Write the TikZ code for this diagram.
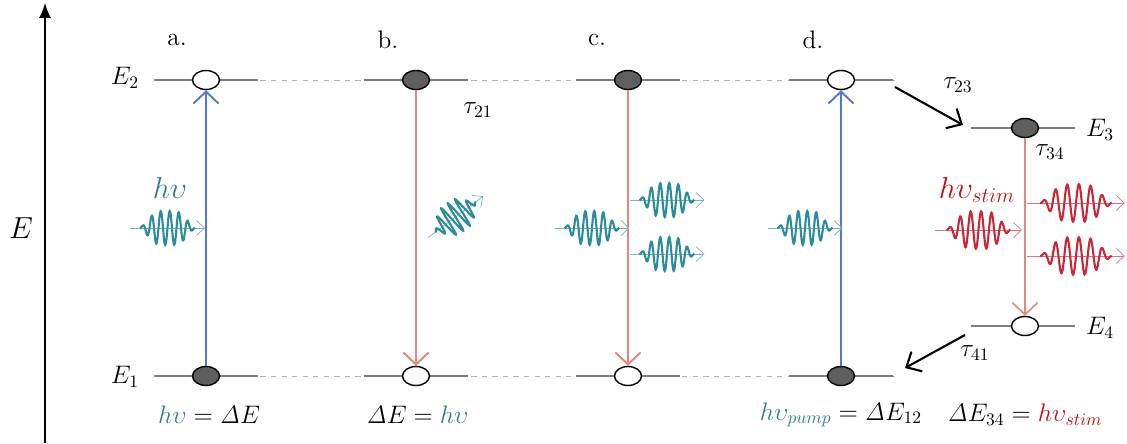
\documentclass[tikz,border=0pt]{standalone}
\usetikzlibrary{arrows.meta,shapes.geometric}
\definecolor{photonteal}{RGB}{45,140,155}
\definecolor{textteal}{RGB}{50,125,140}
\definecolor{stimred}{RGB}{200,40,55}
\definecolor{textred}{RGB}{190,15,20}
\definecolor{pumpblue}{RGB}{85,120,200}
\definecolor{decaypink}{RGB}{225,135,125}
\definecolor{levelgrey}{RGB}{125,125,125}
\definecolor{dotgrey}{RGB}{95,95,95}
\begin{document}
\begin{tikzpicture}[
    font=\Large,
    level/.style={draw, levelgrey, line width=1.2pt},
    guide/.style={draw, black!30, thin, dashed},
    full/.style={ellipse, draw=black, thick, fill=dotgrey, minimum width=0.54cm, minimum height=0.38cm, inner sep=0pt},
    empty/.style={full, fill=white},
    pump/.style={draw, pumpblue, line width=1.1pt, -{Straight Barb[length=2.4mm,width=5mm]}},
    decay/.style={draw, decaypink, line width=1.1pt, -{Straight Barb[length=2.4mm,width=5mm]}},
    relax/.style={draw, black, line width=1.2pt, -{Straight Barb[length=2.4mm,width=4.5mm]}},
    pics/packet/.style={code={
      \draw[#1!65!white, -{Straight Barb[length=1.6mm,width=3mm]}] (-0.75,0) -- (0.75,0);
      \draw[#1, line width=1.2pt] plot[domain=-0.55:0.55, samples=160, smooth]
        (\x,{0.34*exp(-(\x*\x/0.1764)*(\x*\x/0.1764))*sin(2000*\x)});
    }},
  ]
  \useasboundingbox (0,0) rectangle (22.54,8.86);

  % ---- energy axis ----
  \coordinate (axisbot) at (0.9,0);
  \coordinate (axistop) at (0.9,8.8);
  \draw[thick, -{Latex[length=3mm,width=2.4mm]}] (axisbot) -- (axistop);
  \node (elabel) at (0.42,4.3) {\LARGE$E$};

  % ---- levels E1 / E2 ----
  \draw[guide] (3.1,7.26) -- (17.9,7.26);
  \draw[guide] (3.1,1.34) -- (17.9,1.34);
  \node (e2) at (2.5,7.3) {$E_2$};
  \node (e1) at (2.5,1.32) {$E_1$};
  \foreach \col/\cx/\up/\low in {a/4.12/empty/full, b/8.32/full/empty, c/12.56/full/empty, d/16.82/empty/full} {
    \draw[level] (\cx-1.04,7.26) -- (\cx+1.04,7.26);
    \draw[level] (\cx-1.04,1.34) -- (\cx+1.04,1.34);
    \node[\up] (\col2) at (\cx,7.26) {};
    \node[\low] (\col1) at (\cx,1.34) {};
  }
  \foreach \col/\cx in {a/3.54, b/7.76, c/11.94, d/16.26}
    \node (lbl\col) at (\cx,8.06) {\col.};

  % ---- transitions ----
  \draw[pump] (a1) -- (a2);
  \draw[decay] (b2) -- (b1);
  \draw[decay] (c2) -- (c1);
  \draw[pump] (d1) -- (d2);
  \node (t21) at (9.56,6.66) {$\tau_{21}$};

  % ---- photons ----
  \node[textteal] (hva) at (3.4,5.1) {\LARGE$h\upsilon$};
  \pic at (3.35,4.3) {packet=photonteal};
  \pic[rotate=37, scale=0.92] at (9.11,4.52) {packet=photonteal};
  \pic at (11.84,4.3) {packet=photonteal};
  \pic at (13.34,4.86) {packet=photonteal};
  \pic at (13.34,3.78) {packet=photonteal};
  \pic at (16.1,4.3) {packet=photonteal};

  % ---- four level scheme ----
  \draw[level] (19.42,6.30) -- (21.5,6.30);
  \draw[level] (19.42,2.34) -- (21.5,2.34);
  \node[full] (r3) at (20.5,6.30) {};
  \node[empty] (r4) at (20.5,2.34) {};
  \node (e3) at (22.0,6.26) {$E_3$};
  \node (e4) at (22.0,2.3) {$E_4$};
  \draw[decay, line width=0.9pt] (r3) -- (r4);
  \coordinate (t23a) at (17.9,7.12);
  \coordinate (t23b) at (19.26,6.36);
  \draw[relax] (t23a) -- (t23b);
  \coordinate (t41a) at (19.3,2.16);
  \coordinate (t41b) at (18.1,1.5);
  \draw[relax] (t41a) -- (t41b);
  \node (t23) at (19.16,7.16) {$\tau_{23}$};
  \node (t34) at (21.0,5.82) {$\tau_{34}$};
  \node (t41) at (19.5,1.8) {$\tau_{41}$};
  \node[textred] (hvs) at (19.54,5.06) {\LARGE$h\upsilon_{stim}$};
  \pic[xscale=1.16, yscale=1.1] at (19.57,4.26) {packet=stimred};
  \pic[xscale=1.3, yscale=1.1] at (21.52,4.80) {packet=stimred};
  \pic[xscale=1.3, yscale=1.1] at (21.52,3.74) {packet=stimred};

  % ---- relations ----
  \node (eqa) at (4.18,0.56) {$\textcolor{textteal}{h\upsilon} = \mathit{\Delta}E$};
  \node (eqb) at (8.35,0.56) {$\mathit{\Delta}E = \textcolor{textteal}{h\upsilon}$};
  \node (eqd) at (16.82,0.56) {$\textcolor{textteal}{h\upsilon_{pump}} = \mathit{\Delta}E_{12}$};
  \node (eqr) at (20.5,0.56) {$\mathit{\Delta}E_{34} = \textcolor{textred}{h\upsilon_{stim}}$};
\end{tikzpicture}
\end{document}
